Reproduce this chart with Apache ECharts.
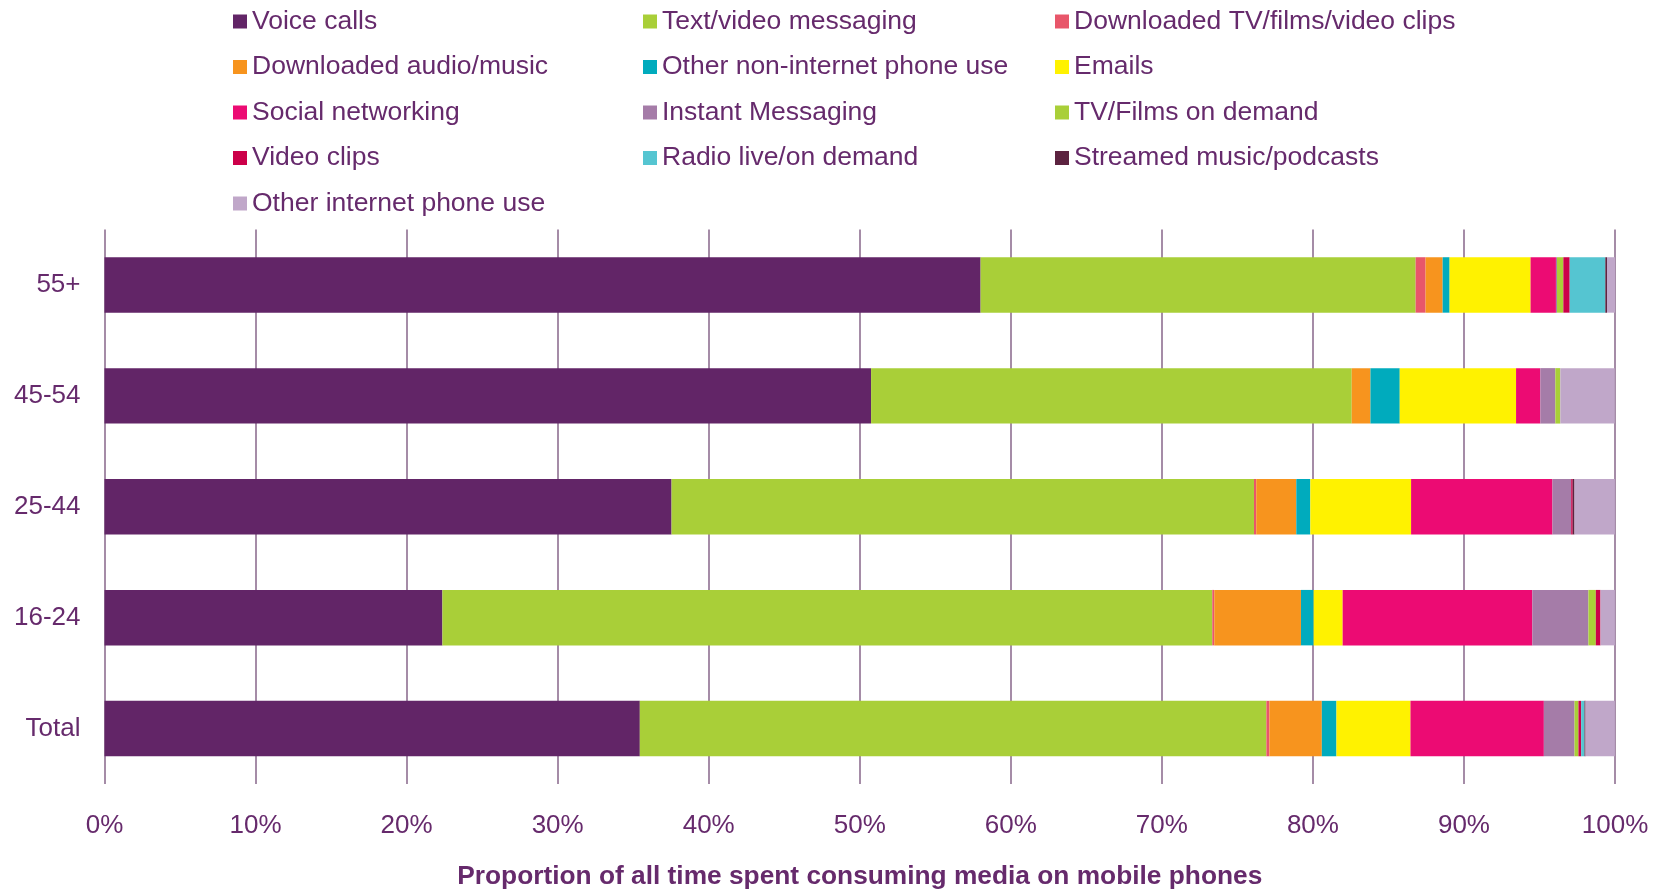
<!DOCTYPE html>
<html>
<head>
<meta charset="utf-8">
<script src="https://cdn.jsdelivr.net/npm/echarts@6/dist/echarts.min.js"></script>
<style>
  html, body { margin: 0; padding: 0; background: #fff; }
  #chart { width: 1663px; height: 890px; }
</style>
</head>
<body>
<div id="chart"></div>
<script>
// Age groups, bottom to top
const categories = ['Total', '16-24', '25-44', '45-54', '55+'];
const tickLabels = ['0%', '10%', '20%', '30%', '40%', '50%', '60%', '70%', '80%', '90%', '100%'];

// Share of mobile media time (%) per activity, in category order
const voiceCalls      = [35.44, 22.37, 37.54, 50.75, 58.00];
const textMessaging   = [41.48, 50.97, 38.56, 31.82, 28.80];
const downloadedTV    = [0.20, 0.13, 0.15, 0.00, 0.66];
const downloadedAudio = [3.47, 5.74, 2.65, 1.24, 1.13];
const otherNonNet     = [0.97, 0.84, 0.93, 1.94, 0.46];
const emails          = [4.90, 1.92, 6.67, 7.70, 5.36];
const socialNet       = [8.83, 12.56, 9.36, 1.61, 1.68];
const instantMsg      = [2.03, 3.71, 1.24, 0.99, 0.07];
const tvFilmsDemand   = [0.26, 0.49, 0.00, 0.33, 0.42];
const videoClips      = [0.18, 0.31, 0.10, 0.00, 0.42];
const radio           = [0.22, 0.00, 0.00, 0.00, 2.36];
const streamedMusic   = [0.07, 0.00, 0.12, 0.00, 0.11];
const otherInternet   = [1.94, 0.95, 2.67, 3.60, 0.53];

const seriesDefs = [
  ['Voice calls', voiceCalls, '#622567'],
  ['Text/video messaging', textMessaging, '#a9cf38'],
  ['Downloaded TV/films/video clips', downloadedTV, '#e8566a'],
  ['Downloaded audio/music', downloadedAudio, '#f7941e'],
  ['Other non-internet phone use', otherNonNet, '#00abbd'],
  ['Emails', emails, '#fff200'],
  ['Social networking', socialNet, '#ec0b73'],
  ['Instant Messaging', instantMsg, '#a57ca8'],
  ['TV/Films on demand', tvFilmsDemand, '#a9cf38'],
  ['Video clips', videoClips, '#cc0049'],
  ['Radio live/on demand', radio, '#55c5d1'],
  ['Streamed music/podcasts', streamedMusic, '#5c2340'],
  ['Other internet phone use', otherInternet, '#c0a7c9']
];

const textColor = '#662a6c';
const font = 'Liberation Sans, Arial, sans-serif';

const legendColumns = [
  { left: 233, names: ['Voice calls', 'Downloaded audio/music', 'Social networking', 'Video clips', 'Other internet phone use'] },
  { left: 643, names: ['Text/video messaging', 'Other non-internet phone use', 'Instant Messaging', 'Radio live/on demand'] },
  { left: 1055, names: ['Downloaded TV/films/video clips', 'Emails', 'TV/Films on demand', 'Streamed music/podcasts'] }
];

const chart = echarts.init(document.getElementById('chart'), null, { renderer: 'canvas' });

chart.setOption({
  backgroundColor: '#ffffff',
  animation: false,
  legend: legendColumns.map(col => ({
    orient: 'vertical',
    left: col.left,
    top: 8,
    padding: 0,
    itemGap: 18.5,
    itemWidth: 14,
    itemHeight: 14,
    icon: 'rect',
    selectedMode: false,
    data: col.names,
    textStyle: { color: textColor, fontSize: 26.5, fontFamily: font, lineHeight: 26, height: 26, padding: [0, 0, 0, 0] }
  })),
  grid: { left: 104.5, right: 48, top: 229.5, bottom: 106, containLabel: false, outerBoundsMode: 'none' },
  xAxis: {
    type: 'value',
    min: 0,
    max: 100,
    interval: 10,
    axisLine: { show: false },
    axisTick: { show: false },
    splitLine: { show: true, lineStyle: { color: '#a58ca7', width: 2 } },
    axisLabel: {
      margin: 29,
      color: textColor,
      fontSize: 26,
      fontFamily: font,
      formatter: v => tickLabels[Math.round(v / 10)]
    },
    name: 'Proportion of all time spent consuming media on mobile phones',
    nameLocation: 'middle',
    nameGap: 80,
    nameTextStyle: { color: textColor, fontSize: 26.3, fontWeight: 'bold', fontFamily: font }
  },
  yAxis: {
    type: 'category',
    data: categories,
    axisLine: { show: false },
    axisTick: { show: false },
    axisLabel: { margin: 24, color: textColor, fontSize: 26, fontFamily: font }
  },
  series: seriesDefs.map(([name, data, color]) => ({
    name,
    type: 'bar',
    stack: 'total',
    data,
    barCategoryGap: '50%',
    itemStyle: { color },
    emphasis: { disabled: true }
  }))
});
</script>
</body>
</html>
